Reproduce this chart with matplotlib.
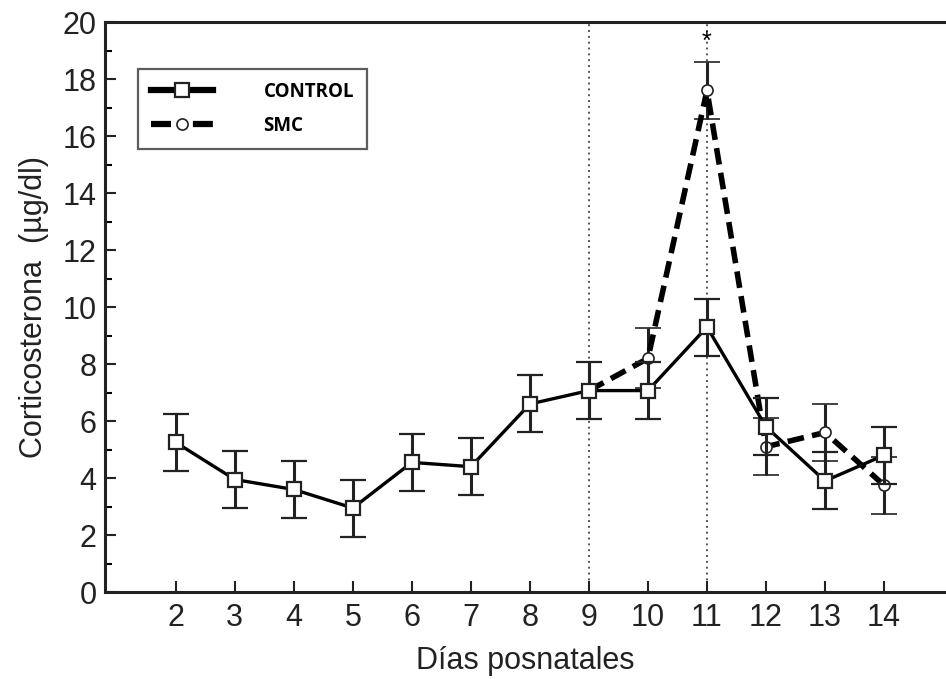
import matplotlib.pyplot as plt
from matplotlib.lines import Line2D
from matplotlib.ticker import MultipleLocator

plt.rcParams['font.family'] = ['Liberation Sans', 'DejaVu Sans']

# Corticosterona por día posnatal (media ± error)
dias = [2, 3, 4, 5, 6, 7, 8, 9, 10, 11, 12, 13, 14]
control = [5.25, 3.95, 3.6, 2.95, 4.55, 4.4, 6.6, 7.07, 7.07, 9.3, 5.8, 3.9, 4.8]
control_err = [1.0, 1.0, 1.0, 1.0, 1.0, 1.0, 1.0, 1.0, 1.0, 1.0, 1.0, 1.0, 1.0]

dias_smc = [9, 10, 11, 12, 13, 14]
smc = [7.07, 8.2, 17.6, 5.1, 5.6, 3.75]
smc_err = [1.0, 1.05, 1.0, 1.0, 1.0, 1.0]

fig = plt.figure(figsize=(9.46, 6.79), dpi=100)
ax = fig.add_axes([0.111, 0.128, 0.889, 0.8395])

# líneas punteadas de referencia
for d in (9, 11):
    ax.axvline(d, color='#555555', linestyle=(0, (1, 2)), linewidth=1.4, zorder=1)

smc_style = dict(color='black', linestyle=(0, (3.0, 1.5)), linewidth=4,
                 marker='o', markersize=8, markerfacecolor='white',
                 markeredgecolor='#222222', markeredgewidth=1.2)
control_style = dict(color='black', linestyle='-', linewidth=2.4,
                     marker='s', markersize=10, markerfacecolor='white',
                     markeredgecolor='#222222', markeredgewidth=1.6)

ax.errorbar(dias_smc, smc, yerr=smc_err, ecolor='#222222', elinewidth=2.2,
            capsize=9.5, capthick=2.2, zorder=3, **smc_style)
ax.errorbar(dias, control, yerr=control_err, ecolor='#222222', elinewidth=2.2,
            capsize=9.5, capthick=2.2, zorder=4, **control_style)

ax.text(11, 19.3, '*', ha='center', va='center', fontsize=18)

ax.set_xlim(0.8, 15.05)
ax.set_ylim(0, 20)
ax.set_xticks(dias)
ax.yaxis.set_major_locator(MultipleLocator(2))
ax.yaxis.set_minor_locator(MultipleLocator(1))
ax.tick_params(axis='both', which='major', direction='in', length=8, width=1.5,
               labelsize=22, colors='#222222')
ax.tick_params(axis='y', which='minor', direction='in', length=5, width=1.5)
ax.tick_params(axis='x', pad=8)
ax.tick_params(axis='y', pad=6)

for side in ('left', 'bottom', 'top'):
    ax.spines[side].set_linewidth(2.2)
    ax.spines[side].set_color('#222222')
ax.spines['right'].set_visible(False)

ax.set_xlabel('Días posnatales', fontsize=22, color='#222222', labelpad=9)
ax.set_ylabel('Corticosterona  (µg/dl)', fontsize=22, color='#222222', labelpad=10)

# leyenda sin barras de error
handles = [Line2D([], [], **dict(control_style, linewidth=4.5)),
           Line2D([], [], **dict(smc_style, linewidth=4.5,
                                 linestyle=(0, (3.2, 3.5))))]
leg = ax.legend(handles, ['CONTROL', 'SMC'], loc='upper left',
                bbox_to_anchor=(0.039, 0.918), frameon=True, fancybox=False,
                handlelength=3.3, handletextpad=2.7, borderpad=0.7,
                borderaxespad=0, labelspacing=0.75,
                prop={'family': 'Open Sans', 'weight': 'bold', 'size': 13.5})
leg.get_frame().set_edgecolor('#333333')
leg.get_frame().set_linewidth(1.6)

fig.savefig('out.png', dpi=100)
